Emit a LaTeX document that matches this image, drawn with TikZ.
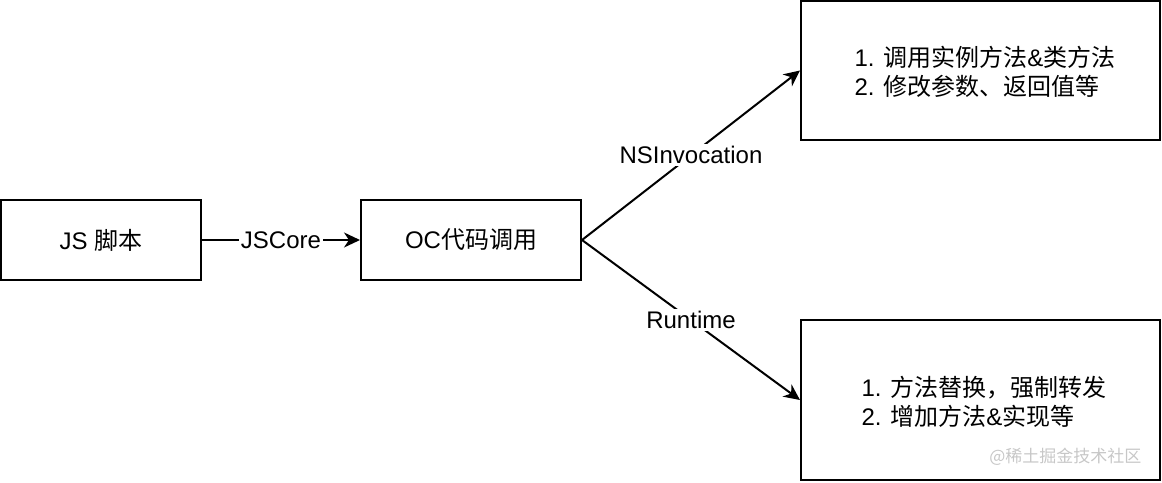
\documentclass[tikz,border=0pt]{standalone}
\usepackage{fontspec}
\setmainfont{Liberation Sans}
\newfontfamily\cjk{Noto Sans CJK SC}
\usetikzlibrary{arrows.meta}
\begin{document}
\begin{tikzpicture}[x=1pt,y=-1pt,
  box/.style={draw=black,line width=2pt,inner sep=0pt,font=\fontsize{24}{30}\selectfont},
  conn/.style={line width=2pt,-{Stealth[length=16pt,width=15pt,inset=5pt]}},
  lbl/.style={fill=white,inner sep=2pt,font=\fontsize{24}{30}\selectfont}]
\useasboundingbox (0,0) rectangle (1162,482);
\node[box,minimum width=200pt,minimum height=80pt] (js) at (101,240) {JS {\cjk 脚本}};
\node[box,minimum width=220pt,minimum height=80pt] (oc) at (471,240) {OC{\cjk 代码调用}};
\node[box,minimum width=359pt,minimum height=139pt] (top) at (980.5,70.5) {};
\node[align=left,font=\fontsize{24}{29}\selectfont,anchor=west] (toptxt) at (851,72) {1. {\cjk 调用实例方法}\&{\cjk 类方法}\\2. {\cjk 修改参数、返回值等}};
\node[box,minimum width=359pt,minimum height=160pt] (bot) at (980.5,400) {};
\node[align=left,font=\fontsize{24}{29}\selectfont,anchor=west] (bottxt) at (858,402) {1. {\cjk 方法替换，强制转发}\\2. {\cjk 增加方法}\&{\cjk 实现等}};
\node[text=black!22,font=\fontsize{17}{20}\selectfont,anchor=east] (wm) at (1145,457) {{\cjk @稀土掘金技术社区}};
\draw[conn] (js.east) -- node[lbl] {JSCore} (oc.west);
\draw[conn] (oc.east) -- node[lbl] {NSInvocation} (top.west);
\draw[conn] (oc.east) -- node[lbl] {Runtime} (bot.west);
\end{tikzpicture}
\end{document}
